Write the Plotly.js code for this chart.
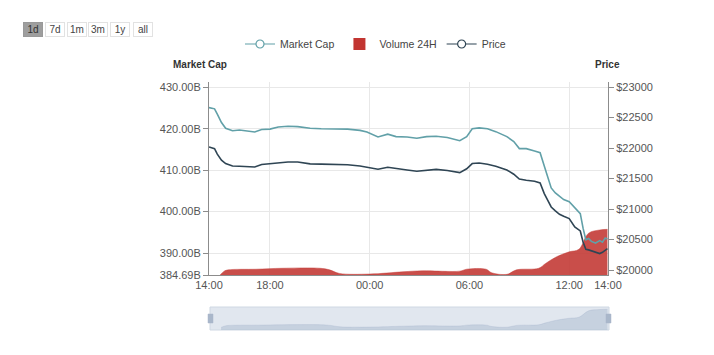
<!DOCTYPE html>
<html>
<head>
<meta charset="utf-8">
<script src="https://cdn.plot.ly/plotly-3.0.1.min.js"></script>
<style>html,body{margin:0;padding:0;background:#fff;}#chart{width:714px;height:355px;}</style>
</head>
<body>
<div id="chart"></div>
<script>
// ---- data ----
var lineTimes = [
  '2022-06-13 14:20','2022-06-13 14:40','2022-06-13 14:50','2022-06-13 15:05','2022-06-13 15:20',
  '2022-06-13 15:45','2022-06-13 16:10','2022-06-13 16:40','2022-06-13 17:05','2022-06-13 17:30',
  '2022-06-13 18:00','2022-06-13 18:30','2022-06-13 19:05','2022-06-13 19:40','2022-06-13 20:25',
  '2022-06-13 21:05','2022-06-13 21:55','2022-06-13 22:40','2022-06-13 23:25','2022-06-13 23:50',
  '2022-06-14 00:30','2022-06-14 01:05','2022-06-14 01:35','2022-06-14 02:15','2022-06-14 02:50',
  '2022-06-14 03:25','2022-06-14 04:00','2022-06-14 04:40','2022-06-14 05:25','2022-06-14 05:50',
  '2022-06-14 06:10','2022-06-14 06:35','2022-06-14 07:05','2022-06-14 07:35','2022-06-14 08:15',
  '2022-06-14 08:40','2022-06-14 09:00','2022-06-14 09:25','2022-06-14 09:55','2022-06-14 10:15',
  '2022-06-14 10:30','2022-06-14 10:45','2022-06-14 10:55','2022-06-14 11:10','2022-06-14 11:25',
  '2022-06-14 11:40','2022-06-14 12:00','2022-06-14 12:20','2022-06-14 12:30','2022-06-14 12:40',
  '2022-06-14 12:50','2022-06-14 13:00','2022-06-14 13:10','2022-06-14 13:20','2022-06-14 13:35',
  '2022-06-14 13:50','2022-06-14 14:00','2022-06-14 14:10','2022-06-14 14:18'
];
var marketCap = [
  425.1, 424.8, 423.5, 421.5, 420.1,
  419.5, 419.7, 419.5, 419.2, 419.8,
  419.9, 420.4, 420.6, 420.5, 420.1,
  420.0, 419.9, 419.9, 419.6, 419.2,
  418.0, 418.7, 418.1, 418.0, 417.7,
  418.1, 418.2, 417.9, 417.1, 418.1,
  420.0, 420.2, 420.0, 419.3, 418.1,
  416.9, 415.2, 415.2, 414.6, 414.2,
  411.0, 407.5, 405.7, 404.5, 403.6,
  402.9, 402.4, 401.0, 400.2, 399.5,
  396.0, 393.2, 393.5, 392.8, 392.4,
  393.0, 392.6, 393.6, 393.4
];
var price = [
  22017, 21990, 21900, 21800, 21745,
  21705, 21700, 21700, 21689, 21730,
  21740, 21761, 21770, 21771, 21740,
  21735, 21730, 21725, 21705, 21680,
  21651, 21685, 21670, 21640, 21618,
  21640, 21650, 21630, 21597, 21660,
  21745, 21755, 21735, 21700, 21640,
  21570, 21490, 21470, 21454, 21427,
  21253, 21120, 21033, 20970, 20914,
  20880, 20843, 20705, 20670, 20640,
  20460, 20340, 20330, 20312, 20285,
  20269, 20290, 20323, 20351
];
var volumeTimes = [
  '2022-06-13 15:00','2022-06-13 15:15','2022-06-13 15:30','2022-06-13 17:10','2022-06-13 18:45',
  '2022-06-13 21:00','2022-06-13 21:35','2022-06-13 22:10','2022-06-14 00:00','2022-06-14 02:00',
  '2022-06-14 03:10','2022-06-14 05:25','2022-06-14 05:50','2022-06-14 07:00','2022-06-14 07:20',
  '2022-06-14 08:15','2022-06-14 08:50','2022-06-14 10:10','2022-06-14 10:35','2022-06-14 11:15',
  '2022-06-14 12:00','2022-06-14 12:35','2022-06-14 13:10','2022-06-14 13:50','2022-06-14 14:18'
];
var volume24h = [
  20.0, 21.2, 21.6, 21.8, 22.1,
  22.1, 21.6, 20.5, 20.3, 21.0,
  21.3, 21.2, 21.8, 21.8, 20.7,
  20.2, 21.6, 22.1, 23.6, 25.7,
  27.2, 28.0, 33.0, 34.0, 34.2
];
var xTickVals = ['2022-06-13 14:20','2022-06-13 18:00','2022-06-14 00:00','2022-06-14 06:00','2022-06-14 12:00','2022-06-14 14:20'];
var xTickText = ['14:00','18:00','00:00','06:00','12:00','14:00'];
var mcTicks = [384.69, 390, 400, 410, 420, 430];
var priceTicks = [20000, 20500, 21000, 21500, 22000, 22500, 23000];
var rangeButtons = ['1d','7d','1m','3m','1y','all'];

// ---- styles ----
var C_MC = '#61a0a8', C_PRICE = '#2f4554', C_VOL = '#c23531';
var FONT = 'Liberation Sans, Arial, Helvetica, sans-serif';
var AXC = '#8c8c8c', GRID = '#e8e8e8', TXT = '#555';
var xRange = ['2022-06-13 14:20','2022-06-14 14:20'];

var traces = [
  {x: volumeTimes, y: volume24h, xaxis:'x', yaxis:'y', type:'scatter', mode:'lines',
   fill:'tozeroy', fillcolor:'rgba(194,53,49,0.88)', line:{color:'rgba(194,53,49,0.9)', width:0.5, shape:'spline'},
   showlegend:false, hoverinfo:'skip'},
  {x: lineTimes, y: marketCap, xaxis:'x', yaxis:'y2', type:'scatter', mode:'lines',
   line:{color:C_MC, width:1.6}, showlegend:false},
  {x: lineTimes, y: price, xaxis:'x', yaxis:'y3', type:'scatter', mode:'lines',
   line:{color:C_PRICE, width:1.6}, showlegend:false},
  // slider preview
  {x: volumeTimes, y: volume24h, xaxis:'x2', yaxis:'y4', type:'scatter', mode:'lines',
   fill:'tozeroy', fillcolor:'rgba(150,168,195,0.35)', line:{color:'rgba(150,168,195,0.5)', width:0.5, shape:'spline'},
   showlegend:false, hoverinfo:'skip'},
  // legend entries
  {x:[null], y:[null], xaxis:'x', yaxis:'y2', type:'scatter', mode:'lines+markers', name:'Market Cap',
   line:{color:C_MC, width:1.2}, marker:{symbol:'circle', size:8, color:'#fff', line:{color:C_MC, width:1.2}}},
  {x:[null], y:[null], xaxis:'x', yaxis:'y', type:'bar', name:'Volume 24H', marker:{color:C_VOL}},
  {x:[null], y:[null], xaxis:'x', yaxis:'y3', type:'scatter', mode:'lines+markers', name:'Price',
   line:{color:C_PRICE, width:1.2}, marker:{symbol:'circle', size:8, color:'#fff', line:{color:C_PRICE, width:1.2}}}
];

var PH = 248; // paper height in px
function py(pixY){ return 1 + (82 - pixY) / PH; }
function px(pixX){ return (pixX - 209) / 399; }

var btnCenters = [32.8, 54.5, 76.7, 98.3, 120.2, 142.5];
var annotations = [
  {text:'Market Cap', xref:'paper', yref:'paper', x:px(200), y:py(65), showarrow:false,
   font:{family:FONT, size:10, color:'#333', weight:'bold'}, xanchor:'center', yanchor:'middle'},
  {text:'Price', xref:'paper', yref:'paper', x:px(607), y:py(65), showarrow:false,
   font:{family:FONT, size:10, color:'#333', weight:'bold'}, xanchor:'center', yanchor:'middle'}
];
rangeButtons.forEach(function(b, i){
  annotations.push({text:b, xref:'paper', yref:'paper', x:px(btnCenters[i]), y:py(29.3), showarrow:false,
    xanchor:'center', yanchor:'middle', width:16, height:11, borderpad:1, borderwidth:1,
    bordercolor: i===0 ? '#999' : '#e2e2e2', bgcolor: i===0 ? '#9e9e9e' : '#fff',
    font:{family:FONT, size:10, color: i===0 ? '#333' : '#444'}});
});

var shapes = [
  {type:'rect', xref:'paper', yref:'paper', x0:px(210), x1:px(609), y0:0, y1:23/PH,
   fillcolor:'#e1e7ef', line:{color:'#cfd8e3', width:1}, layer:'below'},
  {type:'rect', xref:'paper', yref:'paper', x0:px(208), x1:px(213), y0:(330-323)/PH, y1:(330-314)/PH,
   fillcolor:'#a9b7ca', line:{color:'#a9b7ca', width:0.5}},
  {type:'rect', xref:'paper', yref:'paper', x0:px(606), x1:px(611), y0:(330-323)/PH, y1:(330-314)/PH,
   fillcolor:'#a9b7ca', line:{color:'#a9b7ca', width:0.5}}
];

var layout = {
  width:714, height:355,
  margin:{l:209, r:106, t:82, b:25},
  paper_bgcolor:'#fff', plot_bgcolor:'#fff',
  font:{family:FONT, size:11, color:TXT},
  showlegend:true,
  legend:{orientation:'h', x:px(240), xanchor:'left', y:py(44), yanchor:'middle',
          itemwidth:30, font:{family:FONT, size:10.5, color:'#444'},
          bgcolor:'rgba(0,0,0,0)', traceorder:'normal'},
  xaxis:{type:'date', domain:[0,1], anchor:'y', range:xRange, tickmode:'array', tickvals:xTickVals, ticktext:xTickText,
         showgrid:true, gridcolor:GRID, showline:true, linecolor:AXC, linewidth:1, ticks:'', zeroline:false,
         tickfont:{family:FONT, size:11, color:TXT}, fixedrange:true},
  yaxis:{domain:[55/PH, 1], range:[20, 80], visible:false, fixedrange:true},
  yaxis2:{overlaying:'y', side:'left', anchor:'x', range:[384.69, 431.28], tickmode:'array', tickvals:mcTicks,
          ticktext:mcTicks.map(function(v){return v.toFixed(2)+'B';}),
          showgrid:true, gridcolor:GRID, showline:true, linecolor:AXC, linewidth:1, ticks:'outside', ticklen:5,
          tickcolor:AXC, zeroline:false, tickfont:{family:FONT, size:11, color:TXT}, fixedrange:true},
  yaxis3:{overlaying:'y', side:'right', anchor:'x', range:[19918, 23082], tickmode:'array', tickvals:priceTicks,
          ticktext:priceTicks.map(function(v){return '$'+v;}),
          showgrid:false, showline:true, linecolor:AXC, linewidth:1, ticks:'outside', ticklen:5,
          tickcolor:AXC, zeroline:false, tickfont:{family:FONT, size:11, color:TXT}, fixedrange:true},
  xaxis2:{type:'date', domain:[px(210), px(609)], anchor:'y4', range:xRange, visible:false, fixedrange:true},
  yaxis4:{domain:[0, 23/PH], range:[18, 36], visible:false, fixedrange:true},
  annotations:annotations,
  shapes:shapes
};

Plotly.newPlot('chart', traces, layout, {displayModeBar:false, staticPlot:true});
</script>
</body>
</html>
